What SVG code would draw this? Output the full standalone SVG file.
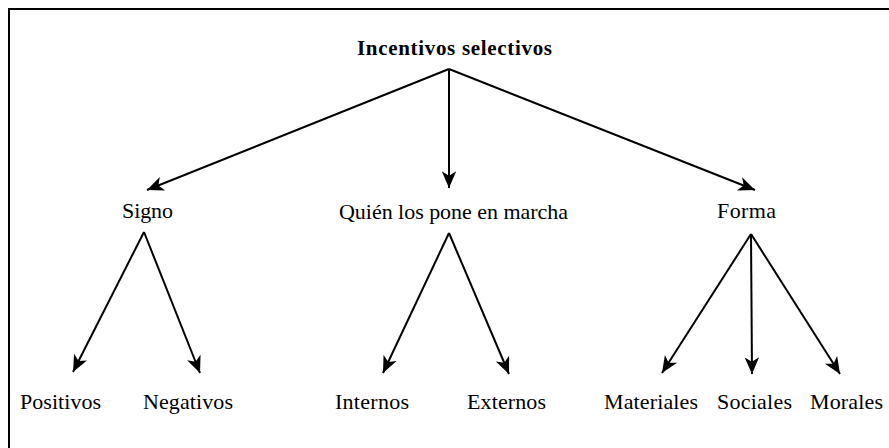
<svg xmlns="http://www.w3.org/2000/svg" width="889" height="448" viewBox="0 0 889 448">
<style>
.t{font-family:'Liberation Serif','Times New Roman',Times,serif;font-size:22px;fill:#000}
.title{font-weight:bold;font-size:21px}
.c{stroke:#000;stroke-width:2;fill:none;marker-end:url(#ah)}
</style>
<defs>
<marker id="ah" markerUnits="userSpaceOnUse" markerWidth="20" markerHeight="20" viewBox="-16 -8 18 16" refX="0" refY="0" orient="auto">
<path d="M0,0 L-15,-6.5 L-11,0 L-15,6.5 Z" fill="#000"/>
</marker>
</defs>
<rect width="889" height="448" fill="#fff"/>
<path d="M9,448 V9 H889" stroke="#000" stroke-width="2" fill="none"/>
<g id="connectors">
<line class="c" x1="449" y1="69" x2="147" y2="190"/>
<line class="c" x1="449" y1="69" x2="449" y2="188"/>
<line class="c" x1="449" y1="69" x2="755" y2="190"/>
<line class="c" x1="144" y1="232" x2="73" y2="372"/>
<line class="c" x1="144" y1="232" x2="200" y2="373"/>
<line class="c" x1="449" y1="233" x2="383" y2="373"/>
<line class="c" x1="449" y1="233" x2="509" y2="374"/>
<line class="c" x1="751" y1="234" x2="662" y2="373"/>
<line class="c" x1="751" y1="234" x2="752" y2="374"/>
<line class="c" x1="751" y1="234" x2="840" y2="374"/>
</g>
<g id="n-root"><text class="t title" font-family="Liberation Serif" x="357" y="55" textLength="195">Incentivos selectivos</text></g>
<g id="n-signo"><text class="t" font-family="Liberation Serif" x="122" y="218" textLength="51">Signo</text></g>
<g id="n-quien"><text class="t" font-family="Liberation Serif" x="339" y="219" textLength="229">Quién los pone en marcha</text></g>
<g id="n-forma"><text class="t" font-family="Liberation Serif" x="717" y="218" textLength="59">Forma</text></g>
<g id="n-positivos"><text class="t" font-family="Liberation Serif" x="20" y="409" textLength="81">Positivos</text></g>
<g id="n-negativos"><text class="t" font-family="Liberation Serif" x="143" y="409" textLength="90">Negativos</text></g>
<g id="n-internos"><text class="t" font-family="Liberation Serif" x="335" y="409" textLength="74">Internos</text></g>
<g id="n-externos"><text class="t" font-family="Liberation Serif" x="467" y="409" textLength="79">Externos</text></g>
<g id="n-materiales"><text class="t" font-family="Liberation Serif" x="604" y="409" textLength="94">Materiales</text></g>
<g id="n-sociales"><text class="t" font-family="Liberation Serif" x="717" y="409" textLength="75">Sociales</text></g>
<g id="n-morales"><text class="t" font-family="Liberation Serif" x="810" y="409" textLength="73">Morales</text></g>
</svg>
